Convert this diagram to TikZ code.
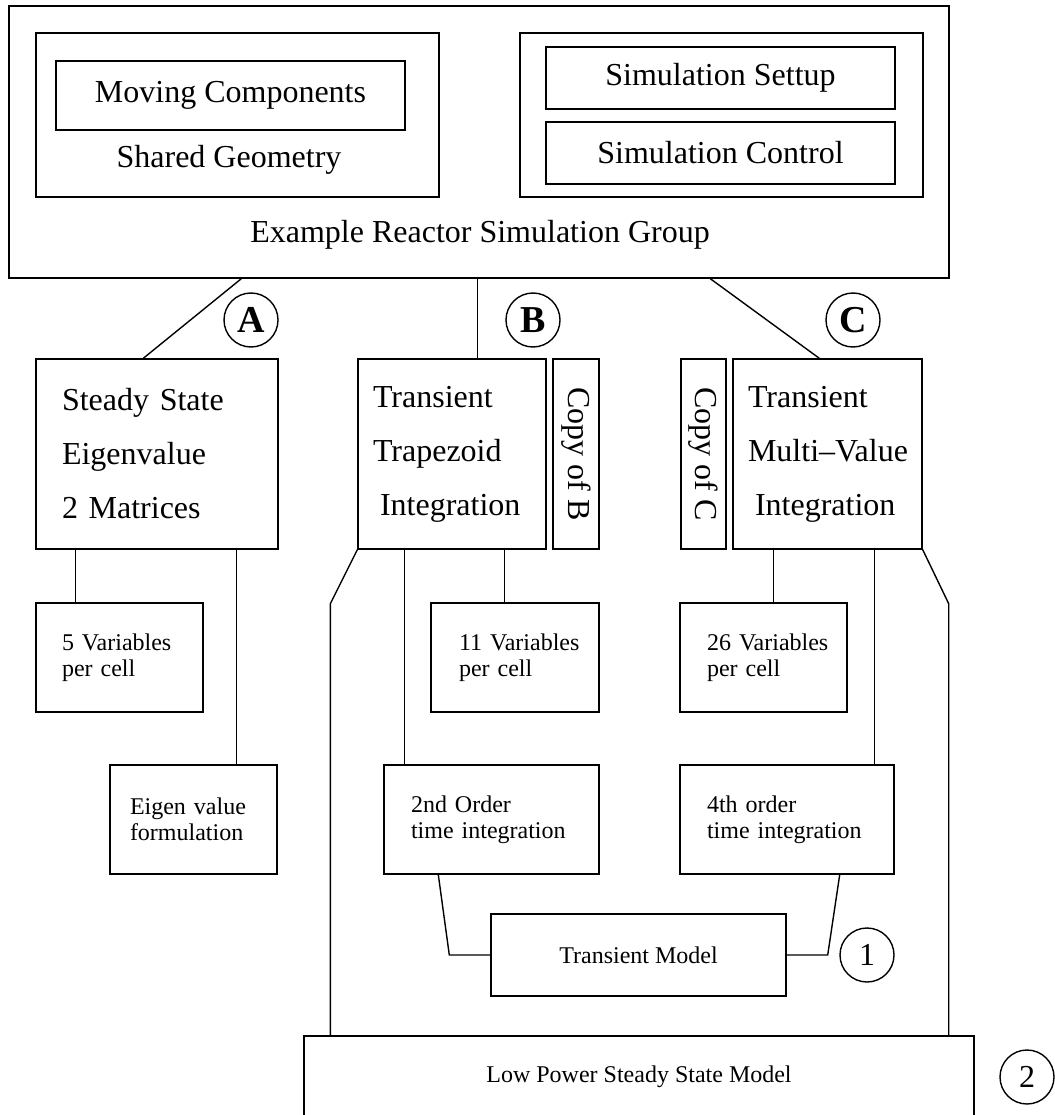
\documentclass[tikz,border=0pt]{standalone}
\usepackage{fontspec}
\setmainfont{Liberation Serif}
\usetikzlibrary{positioning}

\begin{document}
\begin{tikzpicture}[x=1pt,y=-1pt,line width=1.4pt,
  frame/.style={draw,inner sep=0pt},
  bigbox/.style={frame,font=\fontsize{32}{54}\selectfont,align=left,minimum height=190pt},
  smallbox/.style={frame,font=\fontsize{24}{26}\selectfont,align=left,minimum height=109pt},
  copybox/.style={frame,font=\fontsize{32}{38}\selectfont,rotate=-90,minimum width=190pt},
  title/.style={font=\fontsize{32}{38}\selectfont},
  tag/.style={draw,circle,minimum size=54pt,inner sep=0pt,font=\fontsize{38}{40}\selectfont\bfseries},
  num/.style={draw,circle,minimum size=54pt,inner sep=0pt,font=\fontsize{32}{36}\selectfont}]
\useasboundingbox (0,0) rectangle (1054,1115);

% simulation group
\node[frame,minimum width=940pt,minimum height=272pt] (group) at (479,142) {};
\node[frame,minimum width=403pt,minimum height=164pt] (geom) at (237.5,115) {};
\node[frame,title,minimum width=349pt,minimum height=69pt] (moving) at (230.5,95.5) {Moving Components};
\node[title] (geomlbl) at (229,160) {Shared Geometry};
\node[frame,minimum width=403pt,minimum height=164pt] (simset) at (721.5,115) {};
\node[frame,title,minimum width=349pt,minimum height=62pt] (setup) at (720.5,78) {Simulation Settup};
\node[frame,title,minimum width=349pt,minimum height=62pt] (control) at (720.5,153) {Simulation Control};
\node[title] (grouplbl) at (480,235) {Example Reactor Simulation Group};

% solution sequences
\node[bigbox,text width=190pt,inner xsep=26pt] (ss) at (157,454)
  {Steady State\\Eigenvalue\\2 Matrices};
\node[bigbox,text width=158pt,inner xsep=15pt] (tp) at (452,454)
  {Transient\\Trapezoid\\\hspace*{7pt}Integration};
\node[copybox,minimum height=46pt] (cpb) at (576,454) {Copy of B};
\node[copybox,minimum height=45pt] (cpc) at (703.5,454) {Copy of C};
\node[bigbox,text width=159pt,inner xsep=15pt] (mv) at (827.5,454)
  {Transient\\\mbox{Multi--Value}\\\hspace*{7pt}Integration};

\node[tag] (tagA) at (251,320) {A};
\node[tag] (tagB) at (533,320) {B};
\node[tag] (tagC) at (853,320) {C};

\node[smallbox,text width=115pt,inner xsep=26pt] (vars5) at (119.5,657.5) {\mbox{5 Variables}\\per cell};
\node[smallbox,text width=112pt,inner xsep=28pt] (vars11) at (515,657.5) {\mbox{11 Variables}\\per cell};
\node[smallbox,text width=113pt,inner xsep=27pt] (vars26) at (763.5,657.5) {\mbox{26 Variables}\\per cell};

\node[smallbox,text width=127pt,inner xsep=20pt] (eigf) at (193.5,819.5) {Eigen value\\formulation};
\node[smallbox,text width=161pt,inner xsep=27pt] (ord2) at (491.5,819.5) {2nd Order\\time integration};
\node[smallbox,text width=160pt,inner xsep=27pt] (ord4) at (787,819.5) {4th order\\time integration};

\node[frame,font=\fontsize{24}{26}\selectfont,minimum width=295pt,minimum height=82pt] (trm) at (638.5,955) {Transient Model};
\node[num] (num1) at (867,955) {1};
\node[frame,font=\fontsize{24}{26}\selectfont,minimum width=670pt,minimum height=82pt] (lp) at (639,1077) {Low Power Steady State Model};
\node[num] (num2) at (1027,1077) {2};

% group to the three solutions
\draw ([xshift=233pt]group.south west) -- ([xshift=108pt]ss.north west);
\coordinate (bdrop) at ([xshift=120pt]tp.north west);
\draw (bdrop) -- (bdrop |- group.south);
\draw ([xshift=702pt]group.south west) -- ([xshift=87pt]mv.north west);

% solution to its parts
\coordinate (sa) at ([xshift=40pt]vars5.north west);
\draw (sa) -- (sa |- ss.south);
\coordinate (sb) at ([xshift=127pt]eigf.north west);
\draw (sb) -- (sb |- ss.south);
\coordinate (ta) at ([xshift=21pt]ord2.north west);
\draw (ta) -- (ta |- tp.south);
\coordinate (tb) at ([xshift=74pt]vars11.north west);
\draw (tb) -- (tb |- tp.south);
\coordinate (ma) at ([xshift=94pt]vars26.north west);
\draw (ma) -- (ma |- mv.south);
\coordinate (mb) at ([xshift=-20pt]ord4.north east);
\draw (mb) -- (mb |- mv.south);

% models
\draw ([xshift=55pt]ord2.south west) -- ([xshift=-41pt]trm.west) -- (trm.west);
\draw ([xshift=-55pt]ord4.south east) -- ([xshift=41pt]trm.east) -- (trm.east);
\draw (tp.south west) -- ([xshift=-27pt,yshift=-54pt]tp.south west) -- ([xshift=27pt]lp.north west);
\draw (mv.south east) -- ([xshift=26pt,yshift=-54pt]mv.south east) -- ([xshift=-26pt]lp.north east);
\end{tikzpicture}
\end{document}
